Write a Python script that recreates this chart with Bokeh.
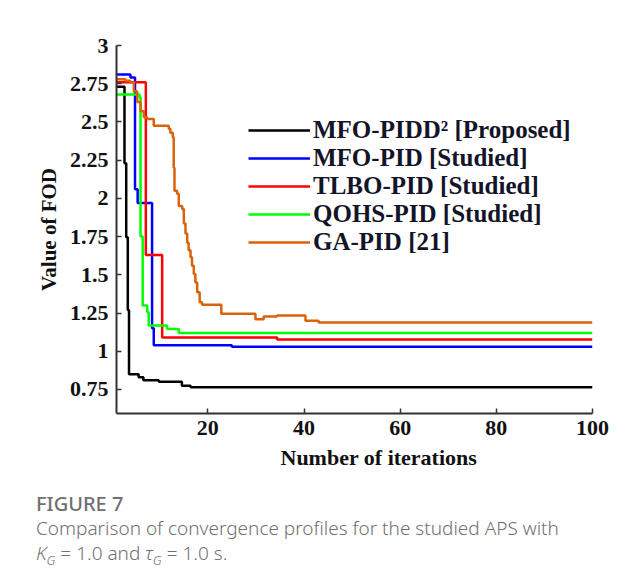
from bokeh.plotting import figure
from bokeh.models import (Legend, LegendItem, FixedTicker, Range1d,
                          NumeralTickFormatter, Div, Title)
from bokeh.layouts import column
from bokeh.embed import file_html
from bokeh.resources import INLINE

# ---------------- data (step change points: iteration, FOD value) ----------------
series_names = ["MFO-PIDD² [Proposed]", "MFO-PID [Studied]", "TLBO-PID [Studied]",
                "QOHS-PID [Studied]", "GA-PID [21]"]
series_colors = ["#000000", "#0000ff", "#ff0000", "#00ff00", "#d9620b"]

iter_mfo_pidd2 = [1, 2.66, 3.02, 3.35, 3.6, 5.6, 6.6, 9.8, 14.6, 16.4, 100]
fod_mfo_pidd2 = [2.73, 2.23, 1.745, 1.27, 0.85, 0.83, 0.81, 0.80, 0.775, 0.765, 0.765]

iter_mfo_pid = [1, 3.9, 4.85, 5.4, 8.4, 8.75, 25, 100]
fod_mfo_pid = [2.81, 2.79, 2.06, 1.97, 1.15, 1.04, 1.03, 1.03]

iter_tlbo_pid = [1, 7.1, 10.5, 34.4, 100]
fod_tlbo_pid = [2.76, 1.63, 1.09, 1.077, 1.077]

iter_qohs_pid = [1, 5.8, 6.0, 6.45, 7.4, 7.7, 11.5, 13.95, 100]
fod_qohs_pid = [2.68, 2.66, 1.75, 1.30, 1.255, 1.168, 1.146, 1.12, 1.12]

iter_ga_pid = [1, 2.87, 3.91, 4.6, 5.3, 6.0, 6.68, 7.38, 8.75, 11.87, 12.2, 12.7, 12.9,
               13.06, 13.6, 13.95, 14.66, 15.0, 15.35, 15.7, 16.0, 16.4, 16.7, 17.07,
               17.4, 17.78, 18.3, 18.8, 22.8, 29.9, 31.6, 34.4, 40.3, 43.05, 100]
fod_ga_pid = [2.78, 2.77, 2.76, 2.70, 2.63, 2.57, 2.53, 2.52, 2.475, 2.455, 2.43, 2.40, 2.20,
              2.05, 2.03, 1.95, 1.93, 1.835, 1.77, 1.71, 1.66, 1.615, 1.56, 1.506,
              1.45, 1.386, 1.32, 1.305, 1.245, 1.21, 1.227, 1.234, 1.20, 1.188, 1.188]

x_ticks = [20, 40, 60, 80, 100]
y_ticks = [0.75, 1.0, 1.25, 1.5, 1.75, 2.0, 2.25, 2.5, 2.75, 3.0]

x_title = "Number of iterations"
y_title = "Value of FOD"
caption_head = "FIGURE 7"
caption_line1 = "Comparison of convergence profiles for the studied APS with"

all_x = [iter_mfo_pidd2, iter_mfo_pid, iter_tlbo_pid, iter_qohs_pid, iter_ga_pid]
all_y = [fod_mfo_pidd2, fod_mfo_pid, fod_tlbo_pid, fod_qohs_pid, fod_ga_pid]

# ---------------- figure ----------------
FIG_H = 485
p = figure(width=641, height=FIG_H, output_backend="svg", toolbar_location=None,
           x_range=Range1d(1, 100), y_range=Range1d(0.593, 3.0),
           min_border_left=116, min_border_right=49, min_border_top=45,
           min_border_bottom=FIG_H - 413)
p.outline_line_color = None
p.grid.visible = False
p.background_fill_color = "white"
p.border_fill_color = "white"

renderers = []
for xs, ys, c in zip(all_x, all_y, series_colors):
    r = p.step(xs, ys, mode="after", line_color=c, line_width=2.5)
    renderers.append(r)

for ax in (p.xaxis[0], p.yaxis[0]):
    ax.axis_line_color = "#333333"
    ax.axis_line_width = 2
    ax.major_tick_in = 5
    ax.major_tick_out = 0
    ax.major_tick_line_color = "#333333"
    ax.major_tick_line_width = 1.5
    ax.minor_tick_line_color = None
    ax.major_label_text_font = "Liberation Serif"
    ax.major_label_text_font_style = "bold"
    ax.major_label_text_font_size = "22px"
    ax.major_label_text_color = "#111111"
    ax.axis_label_text_font = "Liberation Serif"
    ax.axis_label_text_font_style = "bold"
    ax.axis_label_text_color = "#111111"

p.xaxis.ticker = FixedTicker(ticks=x_ticks)
p.yaxis.ticker = FixedTicker(ticks=y_ticks)
p.yaxis.formatter = NumeralTickFormatter(format="0.[00]")
p.xaxis.major_label_standoff = 7
p.yaxis.major_label_standoff = 8
p.yaxis.axis_label = y_title
p.yaxis.axis_label_text_font_size = "21px"
p.yaxis.axis_label_standoff = 6

# x title as a left-aligned title below the axis (it sits right of centre in the reference)
p.add_layout(Title(text=x_title, align="left", offset=164, standoff=10,
                   text_font="Liberation Serif", text_font_style="bold",
                   text_font_size="22px", text_color="#111111"), "below")

# legend
legend = Legend(items=[LegendItem(label=n, renderers=[r]) for n, r in zip(series_names, renderers)],
                location=(132, 157), orientation="vertical",
                glyph_width=62, glyph_height=20, label_standoff=3, spacing=-2,
                padding=0, margin=0, border_line_color=None, background_fill_alpha=0,
                label_text_font="Liberation Serif", label_text_font_style="bold",
                label_text_font_size="25px", label_text_color="#141428")
p.add_layout(legend, "center")

# ---------------- caption ----------------
cap_html = (
    '<div style="font-family:\'Noto Sans\'; color:#707070; '
    'padding:6px 0 0 36px; line-height:25px; white-space:nowrap;">'
    f'<div style="font-size:20px; font-weight:500;">{caption_head}</div>'
    f'<div style="font-size:19px; font-weight:300;">{caption_line1}</div>'
    '<div style="font-size:19px; font-weight:300;"><i>K</i><sub style="font-size:13px;"><i>G</i></sub>'
    ' = 1.0 and <i>τ</i><sub style="font-size:13px;"><i>G</i></sub> = 1.0 s.</div>'
    '</div>'
)
caption = Div(text=cap_html, width=641, height=587 - FIG_H, margin=0)

layout = column(p, caption, spacing=0)
open("out.html", "w").write(file_html(layout, INLINE))
